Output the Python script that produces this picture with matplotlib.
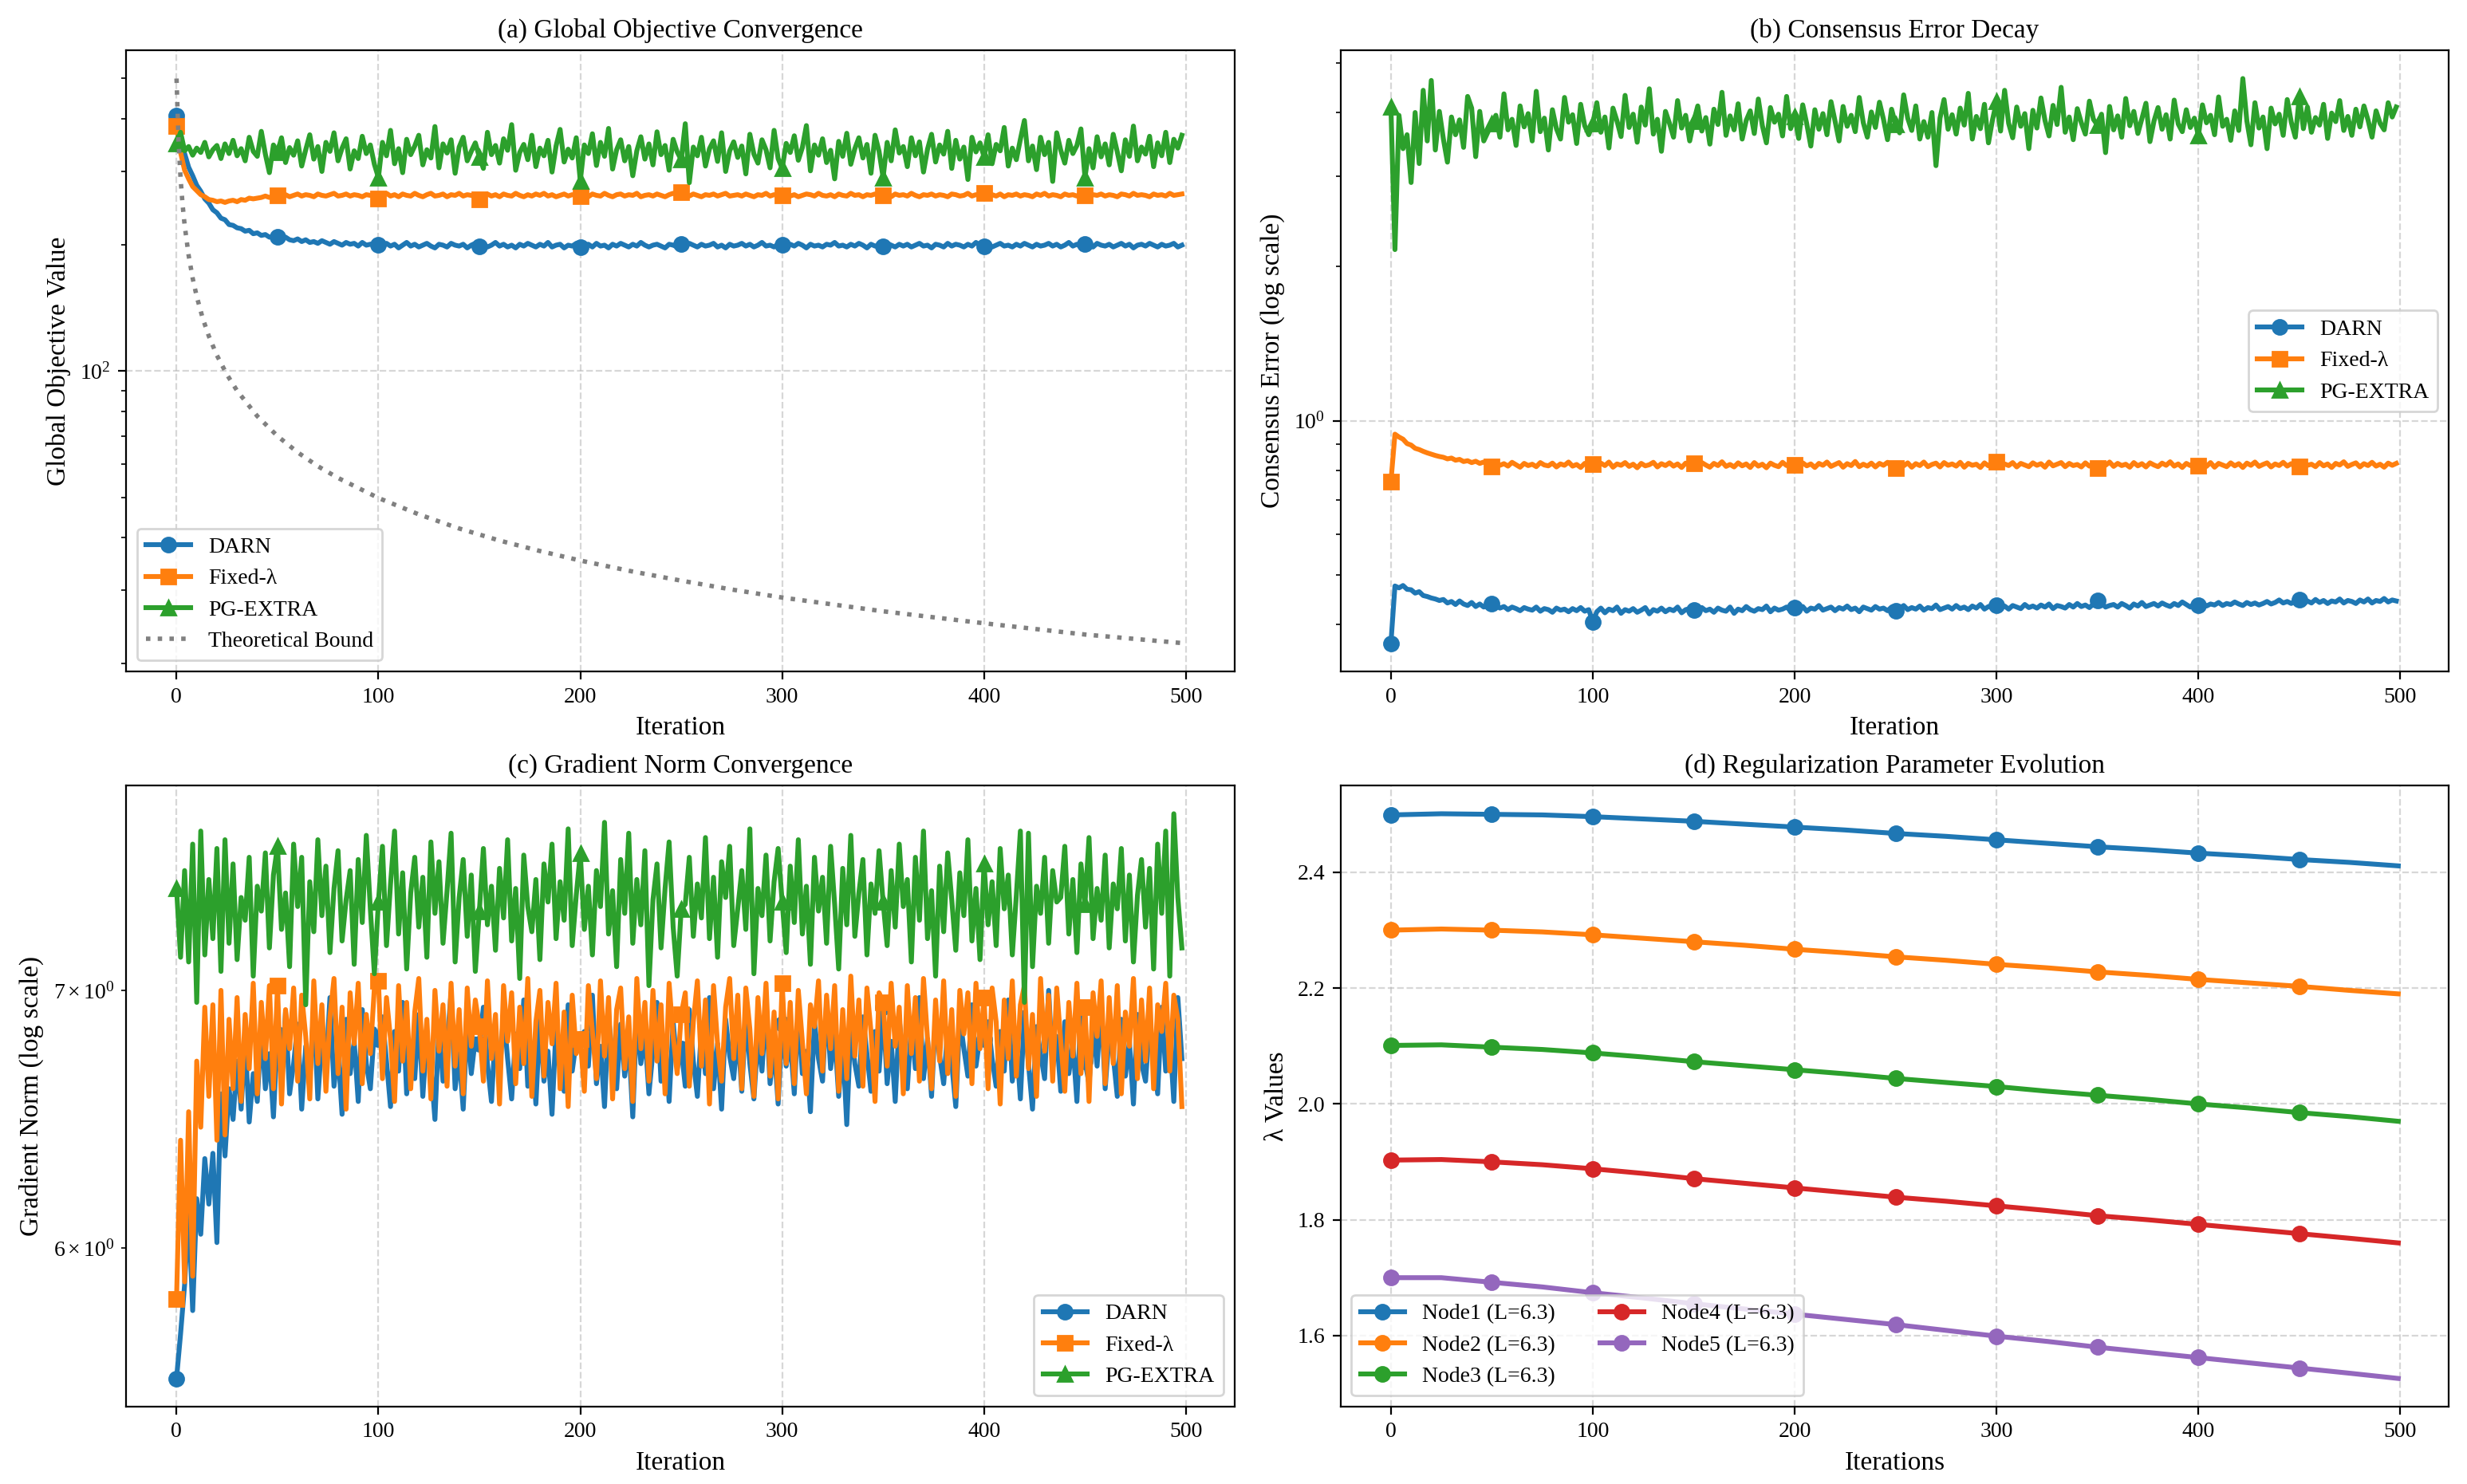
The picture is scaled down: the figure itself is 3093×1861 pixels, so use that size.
import matplotlib.pyplot as plt
import numpy as np

plt.rcParams['font.family'] = 'serif'
plt.rcParams['font.serif'] = ['Liberation Serif', 'DejaVu Serif']
plt.rcParams['mathtext.fontset'] = 'stix'

## data (sampled every 2 iterations) ##########
# (a) global objective
a_darn = [407, 362, 331, 307, 293, 278, 269, 258, 252, 243, 239, 232, 230, 224, 223, 220, 219, 216, 217, 213,
          214, 211, 212, 209, 210, 209,
          207, 209, 206, 205, 207, 204, 206, 203, 204, 202, 205, 203, 201, 204, 202, 200, 203, 201, 202, 199,
          203, 200, 201, 202,
          200, 198, 202, 199, 201, 197, 200, 203, 199, 201,
          198, 200, 202, 199, 197, 201, 200, 198, 202, 200,
          199, 201, 197, 200, 202, 199, 201, 198, 200, 203,
          199, 201, 198, 200, 197, 201, 199, 202, 200, 198,
          201, 199, 203, 198, 200, 201, 197, 200, 199, 202,
          198, 200, 201, 198, 202, 199, 200, 197, 201, 199,
          202, 200, 198, 201, 199, 203, 200, 198, 200, 201,
          199, 197, 201, 200, 198, 201, 199, 202, 200, 198,
          201, 199, 200, 202, 198, 200, 197, 201, 199, 200,
          202, 199, 201, 198, 200, 203, 199, 200, 198, 201,
          200, 198, 201, 199, 202, 200, 197, 201, 199, 200,
          198, 201, 200, 203, 199, 200, 198, 201, 199, 202,
          200, 197, 201, 199, 200, 199, 202, 200, 198, 201,
          199, 201, 198, 200, 202, 199, 200, 197, 201, 200,
          198, 202, 199, 201, 200, 198, 201, 199, 203, 200,
          199, 201, 198, 200, 202, 199, 200, 198, 201, 199,
          202, 200, 198, 201, 199, 200, 202, 199, 201, 198,
          200, 203, 199, 201, 198, 201, 200, 198, 202, 200,
          199, 201, 198, 200, 202, 199, 201, 197, 200, 201,
          199, 202, 200, 198, 201, 199, 200, 202, 198, 200]
a_fixed = [385, 333, 302, 288, 276, 270, 264, 261, 257, 256, 254, 255, 253, 255, 256, 254, 257, 256, 259, 258,
           259, 260, 262, 260, 262, 263,
           262, 264, 261, 263, 265, 262, 264, 263, 261, 265, 263, 262, 264, 266, 262, 263, 265, 262, 264, 263,
           261, 264, 263, 265,
           258, 263, 266, 262, 264, 261, 265, 263, 262, 266,
           263, 261, 264, 266, 262, 263, 265, 261, 264, 263,
           266, 262, 264, 263, 261, 257, 263, 265, 262, 264,
           261, 265, 263, 262, 266, 263, 261, 264, 262, 265,
           263, 266, 262, 264, 261, 263, 265, 262, 264, 263,
           262, 264, 261, 265, 263, 262, 266, 263, 261, 264,
           265, 262, 264, 263, 266, 261, 263, 264, 262, 265,
           263, 261, 264, 266, 263, 268, 264, 262, 265, 263,
           261, 264, 263, 265, 262, 264, 266, 262, 263, 264,
           262, 265, 263, 261, 264, 263, 266, 262, 264, 263,
           263, 265, 262, 264, 261, 263, 265, 264, 262, 266,
           263, 262, 264, 261, 265, 263, 262, 266, 263, 264,
           261, 264, 263, 265, 262, 263, 264, 261, 265, 263,
           264, 262, 266, 263, 261, 264, 263, 265, 262, 264,
           263, 261, 265, 264, 262, 263, 266, 262, 264, 263,
           266, 263, 264, 262, 265, 261, 264, 263, 265, 262,
           264, 263, 261, 265, 263, 266, 262, 264, 263, 261,
           265, 263, 264, 262, 266, 263, 261, 264, 263, 265,
           262, 264, 263, 261, 265, 264, 262, 266, 263, 264,
           263, 261, 265, 263, 264, 262, 266, 263, 264, 265]
a_extra = [350, 372, 336, 344, 328, 341, 333, 352, 325, 338,
           346, 322, 349, 331, 356, 327, 340, 318, 362, 335,
           326, 374, 330, 298, 347, 333, 361, 315, 342, 328,
           355, 309, 338, 367, 321, 344, 300, 352, 335, 371,
           318, 341, 359, 304, 336, 322, 364, 331, 347, 312,
           290, 352, 327, 376, 313, 340, 298, 358, 329, 345,
           366, 311, 338, 323, 384, 306, 349, 332, 357, 297,
           343, 362, 318, 335, 351, 325, 305, 372, 329, 346,
           314, 359, 337, 388, 302, 333, 348, 320, 366, 308,
           341, 327, 356, 299, 345, 378, 316, 339, 323, 361,
           285, 347, 331, 369, 310, 352, 326, 380, 304, 338,
           357, 318, 344, 293, 336, 363, 321, 349, 311, 373,
           329, 346, 302, 358, 334, 320, 390, 282, 343, 327,
           362, 309, 340, 355, 317, 371, 300, 336, 353, 324,
           345, 296, 368, 330, 314, 357, 338, 306, 376, 322,
           305, 350, 333, 365, 319, 342, 386, 301, 347, 328,
           359, 315, 337, 288, 354, 326, 370, 312, 340, 361,
           323, 348, 297, 366, 335, 290, 352, 318, 377, 332,
           344, 308, 361, 327, 353, 299, 339, 368, 316, 347,
           330, 374, 305, 356, 321, 343, 287, 362, 334, 351,
           325, 367, 313, 348, 336, 382, 309, 341, 320, 358,
           397, 318, 345, 303, 362, 329, 352, 284, 371, 337,
           314, 356, 331, 346, 379, 290, 340, 306, 363, 325,
           349, 311, 368, 334, 301, 357, 326, 385, 318, 343,
           330, 364, 308, 351, 327, 372, 315, 358, 341, 366]
bound_iters = [0, 1, 2, 3, 4, 6, 8, 10, 13, 16, 20, 25, 30, 40, 50, 60, 70, 80, 100, 120,
               140, 160, 180, 200, 225, 250, 275, 300, 350, 400, 450, 499]
bound_vals = [500, 353.6, 288.7, 250, 223.6, 189.0, 166.7, 150.8, 133.6, 121.3, 109.1, 98.1, 89.8, 78.1,
              70.0, 64.0, 59.3, 55.6, 49.8, 45.5, 42.1, 39.4, 37.2, 35.3, 33.3, 31.6, 30.1, 28.8, 26.7,
              25.0, 23.5, 22.4]

# (b) consensus error
b_darn = [0.368, 0.476, 0.472, 0.477, 0.469, 0.468, 0.461, 0.464, 0.456, 0.454, 0.451, 0.449, 0.446, 0.448,
          0.441, 0.444, 0.438, 0.445, 0.439, 0.436, 0.442, 0.434, 0.439, 0.433, 0.437, 0.440,
          0.436, 0.431, 0.434, 0.428, 0.433, 0.430, 0.426, 0.432, 0.429, 0.427, 0.433, 0.425, 0.430, 0.428,
          0.423, 0.431, 0.427, 0.429, 0.424, 0.430, 0.426, 0.432, 0.425, 0.428,
          0.405, 0.424, 0.431, 0.422, 0.429, 0.426, 0.433, 0.421, 0.428, 0.425,
          0.430, 0.423, 0.427, 0.432, 0.420, 0.428, 0.425, 0.431, 0.424, 0.429,
          0.426, 0.433, 0.422, 0.428, 0.430, 0.427, 0.424, 0.432, 0.426, 0.429,
          0.423, 0.431, 0.427, 0.425, 0.433, 0.421, 0.429, 0.426, 0.434, 0.428,
          0.425, 0.430, 0.428, 0.435, 0.424, 0.431, 0.427, 0.429, 0.433, 0.426,
          0.432, 0.428, 0.434, 0.425, 0.431, 0.429, 0.436, 0.427, 0.430, 0.433,
          0.426, 0.432, 0.429, 0.435, 0.428, 0.431, 0.424, 0.433, 0.430, 0.427,
          0.434, 0.429, 0.431, 0.426, 0.433, 0.425, 0.430, 0.436, 0.428, 0.432,
          0.429, 0.435, 0.427, 0.432, 0.430, 0.437, 0.428, 0.431, 0.434, 0.429,
          0.436, 0.430, 0.433, 0.428, 0.435, 0.431, 0.438, 0.429, 0.434, 0.432,
          0.437, 0.431, 0.435, 0.429, 0.436, 0.433, 0.430, 0.438, 0.432, 0.435,
          0.431, 0.437, 0.433, 0.439, 0.430, 0.436, 0.434, 0.431, 0.438, 0.433,
          0.440, 0.434, 0.437, 0.432, 0.439, 0.446, 0.441, 0.433, 0.436, 0.438,
          0.433, 0.440, 0.436, 0.431, 0.439, 0.435, 0.442, 0.434, 0.437, 0.440,
          0.435, 0.441, 0.437, 0.434, 0.440, 0.436, 0.443, 0.438, 0.433, 0.439,
          0.436, 0.441, 0.435, 0.439, 0.437, 0.442, 0.436, 0.440, 0.438, 0.443,
          0.439, 0.436, 0.442, 0.438, 0.441, 0.437, 0.440, 0.444, 0.439, 0.442,
          0.447, 0.441, 0.444, 0.440, 0.446, 0.447, 0.439, 0.445, 0.441, 0.448,
          0.442, 0.446, 0.440, 0.445, 0.443, 0.449, 0.441, 0.446, 0.444, 0.440,
          0.447, 0.443, 0.449, 0.441, 0.446, 0.444, 0.450, 0.443, 0.447, 0.445]
b_fixed = [0.760, 0.942, 0.930, 0.921, 0.903, 0.897, 0.884, 0.879, 0.872, 0.866, 0.861, 0.856, 0.852, 0.849,
           0.843, 0.846, 0.838, 0.841, 0.833, 0.836, 0.829, 0.834, 0.826, 0.831, 0.824, 0.815,
           0.828, 0.819, 0.825, 0.816, 0.830, 0.821, 0.812, 0.826, 0.818, 0.823, 0.814, 0.829, 0.820, 0.817,
           0.827, 0.813, 0.824, 0.819, 0.831, 0.816, 0.822, 0.811, 0.826, 0.818,
           0.822, 0.814, 0.827, 0.818, 0.831, 0.812, 0.824, 0.819, 0.829, 0.815,
           0.823, 0.810, 0.826, 0.817, 0.821, 0.830, 0.813, 0.825, 0.818, 0.828,
           0.816, 0.824, 0.811, 0.827, 0.819, 0.825, 0.814, 0.829, 0.820, 0.812,
           0.826, 0.818, 0.832, 0.815, 0.822, 0.813, 0.828, 0.817, 0.824, 0.811,
           0.829, 0.816, 0.823, 0.810, 0.827, 0.819, 0.814, 0.830, 0.818, 0.825,
           0.820, 0.813, 0.828, 0.817, 0.824, 0.811, 0.826, 0.819, 0.831, 0.815,
           0.822, 0.829, 0.812, 0.825, 0.818, 0.833, 0.814, 0.823, 0.816, 0.827,
           0.813, 0.826, 0.819, 0.830, 0.815, 0.810, 0.824, 0.817, 0.828, 0.812,
           0.825, 0.818, 0.831, 0.814, 0.822, 0.827, 0.813, 0.829, 0.819, 0.824,
           0.816, 0.830, 0.812, 0.826, 0.819, 0.823, 0.811, 0.828, 0.817, 0.825,
           0.832, 0.815, 0.824, 0.818, 0.829, 0.813, 0.826, 0.820, 0.814, 0.828,
           0.819, 0.825, 0.812, 0.831, 0.817, 0.823, 0.829, 0.814, 0.826, 0.818,
           0.822, 0.813, 0.828, 0.816, 0.824, 0.810, 0.827, 0.819, 0.831, 0.815,
           0.826, 0.818, 0.823, 0.812, 0.829, 0.817, 0.825, 0.813, 0.828, 0.820,
           0.814, 0.827, 0.819, 0.832, 0.816, 0.824, 0.811, 0.826, 0.818, 0.829,
           0.818, 0.823, 0.815, 0.829, 0.812, 0.826, 0.820, 0.814, 0.828, 0.817,
           0.825, 0.811, 0.827, 0.819, 0.831, 0.815, 0.822, 0.828, 0.813, 0.824,
           0.818, 0.830, 0.816, 0.825, 0.812, 0.815, 0.827, 0.819, 0.823, 0.814,
           0.829, 0.817, 0.824, 0.811, 0.826, 0.820, 0.832, 0.815, 0.822, 0.828,
           0.813, 0.825, 0.818, 0.830, 0.816, 0.823, 0.812, 0.827, 0.819, 0.826]
b_extra = [4.10, 2.16, 3.95, 3.40, 3.62, 2.92, 4.00, 3.18, 4.42, 3.52,
           4.62, 3.38, 4.02, 3.55, 3.20, 3.92, 3.62, 3.87, 3.42, 4.30,
           4.08, 3.28, 4.02, 3.52, 3.66, 3.80, 3.95, 3.58, 4.35, 3.70,
           3.88, 3.45, 4.12, 3.75, 3.98, 3.52, 4.40, 3.67, 3.90, 3.38,
           4.05, 3.72, 3.55, 4.28, 3.83, 3.96, 3.48, 4.15, 3.77, 3.62,
           3.80, 4.18, 3.66, 3.92, 3.41, 4.08, 3.85, 3.59, 4.32, 3.74,
           3.97, 3.50, 4.10, 3.78, 4.45, 3.63, 3.88, 3.36, 4.02, 3.81,
           3.58, 4.22, 3.73, 3.95, 3.52, 3.84, 4.12, 3.68, 3.91, 3.47,
           4.06, 3.79, 4.38, 3.61, 3.94, 3.70, 4.16, 3.55, 3.86, 4.03,
           3.64, 4.25, 3.77, 3.49, 4.09, 3.83, 3.97, 3.60, 4.30, 3.72,
           3.93, 3.56, 4.14, 3.80, 3.44, 4.05, 3.71, 3.98, 3.62, 4.20,
           3.85, 3.52, 4.11, 3.76, 3.95, 3.67, 4.28, 3.82, 3.58, 4.01,
           3.74, 4.19, 3.88, 3.54, 4.06, 3.79, 3.65, 4.33, 3.90, 3.69,
           4.12, 3.55, 3.84, 3.58, 4.00, 3.15, 3.90, 4.24, 3.71, 3.96,
           3.63, 4.08, 3.78, 4.36, 3.55, 3.93, 3.72, 4.15, 3.49, 3.87,
           4.20, 3.68, 4.42, 3.81, 3.57, 4.10, 3.76, 3.98, 3.40, 4.04,
           3.73, 4.27, 3.86, 3.60, 4.13, 3.79, 4.48, 3.66, 3.92, 3.54,
           4.07, 3.82, 3.63, 4.21, 3.88, 3.78, 3.97, 3.34, 4.11, 3.70,
           3.94, 3.58, 4.26, 3.77, 4.02, 3.64, 3.89, 4.17, 3.51, 3.85,
           4.09, 3.71, 3.96, 3.55, 4.23, 3.80, 3.67, 4.05, 3.74, 3.90,
           3.60, 4.14, 3.82, 3.95, 3.62, 4.29, 3.76, 3.88, 3.53, 4.03,
           3.69, 4.66, 3.85, 3.46, 4.18, 3.73, 3.92, 3.40, 4.08, 3.80,
           3.97, 3.61, 4.24, 3.83, 3.58, 4.30, 3.72, 4.10, 3.66, 3.91,
           3.78, 4.15, 3.56, 3.99, 3.84, 4.22, 3.69, 3.93, 3.61, 4.06,
           3.75, 4.12, 3.87, 3.58, 4.03, 3.81, 3.70, 4.18, 3.92, 4.10]

# (c) gradient norm
c_darn = [5.55, 5.70, 5.87, 6.14, 5.78, 6.18, 6.05, 6.33, 6.16, 6.35,
          6.02, 6.58, 6.34, 6.60, 6.48, 6.71, 6.52, 6.80, 6.47, 6.66,
          6.55, 6.85, 6.60, 6.74, 6.49, 6.82, 6.63, 6.91, 6.58, 6.70,
          6.86, 6.52, 6.77, 6.64, 6.93, 6.56, 6.80, 6.68, 6.97, 6.61,
          6.75, 6.50, 6.88, 6.66, 6.79, 6.55, 6.92, 6.70, 6.60, 6.84,
          6.80, 6.89, 6.71, 6.53, 6.83, 6.67, 6.95, 6.58, 6.76, 6.64,
          6.90, 6.57, 6.81, 6.69, 6.48, 6.86, 6.63, 6.78, 6.99, 6.60,
          6.74, 6.52, 6.87, 6.66, 6.80, 6.78, 6.93, 6.70, 6.55, 6.84,
          6.65, 6.91, 6.72, 6.56, 6.82, 6.68, 6.96, 6.61, 6.78, 6.54,
          6.88, 6.63, 6.75, 6.50, 6.85, 6.71, 6.59, 6.94, 6.67, 6.79,
          6.80, 6.83, 6.69, 6.98, 6.62, 6.77, 6.53, 6.89, 6.72, 6.60,
          6.86, 6.65, 6.79, 6.49, 6.91, 6.70, 6.82, 6.58, 6.75, 6.95,
          6.63, 6.80, 6.55, 6.87, 6.68, 6.76, 6.61, 6.92, 6.71, 6.57,
          6.84, 6.66, 6.97, 6.60, 6.78, 6.52, 6.88, 6.73, 6.64, 6.83,
          6.59, 6.90, 6.70, 6.56, 6.81, 6.67, 6.94, 6.62, 6.77, 6.54,
          6.86, 6.69, 6.80, 6.58, 6.92, 6.66, 6.75, 6.51, 6.87, 6.72,
          6.63, 6.95, 6.68, 6.82, 6.57, 6.78, 6.46, 6.85, 6.70, 6.61,
          6.89, 6.74, 6.59, 6.83, 6.67, 6.93, 6.62, 6.79, 6.55, 6.88,
          6.71, 6.60, 6.86, 6.68, 6.97, 6.64, 6.80, 6.57, 6.90, 6.73,
          6.62, 6.84, 6.70, 6.53, 6.89, 6.76, 6.65, 6.94, 6.69, 6.81,
          6.80, 6.87, 6.72, 6.61, 6.83, 6.67, 6.96, 6.63, 6.79, 6.56,
          6.91, 6.70, 6.52, 6.85, 6.74, 6.64, 7.00, 6.68, 6.81, 6.59,
          6.87, 6.66, 6.78, 6.55, 6.92, 6.71, 6.62, 6.84, 6.69, 6.95,
          6.60, 6.82, 6.73, 6.57, 6.88, 6.65, 6.79, 6.54, 6.90, 6.70,
          6.63, 6.86, 6.74, 6.58, 6.93, 6.67, 6.81, 6.55, 6.97, 6.72]
c_fixed = [5.82, 6.40, 5.88, 6.51, 5.90, 6.71, 6.45, 6.93, 6.57, 6.94,
           6.40, 7.00, 6.42, 6.88, 6.60, 6.97, 6.55, 6.90, 6.68, 7.03,
           6.58, 6.95, 6.72, 7.02, 6.60, 7.02, 6.54, 6.92, 6.76, 7.01,
           6.63, 6.98, 6.81, 6.56, 7.04, 6.70, 6.94, 6.59, 6.89, 7.05,
           6.66, 6.93, 6.52, 6.99, 6.78, 7.03, 6.62, 6.90, 6.74, 7.01,
           7.04, 6.64, 6.97, 6.80, 6.55, 7.02, 6.71, 6.95, 6.60, 6.91,
           7.05, 6.67, 6.88, 6.56, 7.00, 6.75, 6.94, 6.61, 7.03, 6.69,
           6.92, 6.58, 7.01, 6.77, 6.96, 6.85, 6.63, 7.04, 6.72, 6.90,
           6.54, 7.02, 6.79, 6.99, 6.62, 6.93, 6.70, 7.05, 6.57, 6.87,
           7.00, 6.65, 6.95, 6.78, 7.03, 6.60, 6.91, 6.53, 6.98, 6.74,
           6.80, 6.59, 7.02, 6.83, 6.64, 7.04, 6.73, 6.97, 6.56, 6.92,
           7.01, 6.68, 6.89, 6.55, 7.05, 6.76, 6.95, 6.63, 7.00, 6.71,
           6.94, 6.58, 7.03, 6.81, 6.66, 6.90, 6.99, 6.61, 6.87, 7.04,
           6.69, 6.96, 6.54, 7.02, 6.78, 6.63, 6.93, 7.05, 6.72, 6.98,
           6.60, 7.01, 6.84, 6.57, 6.97, 6.74, 7.03, 6.65, 6.91, 6.56,
           7.03, 6.70, 6.95, 6.62, 7.00, 6.79, 6.58, 6.94, 6.85, 7.04,
           6.67, 6.98, 6.76, 7.02, 6.59, 6.92, 6.64, 7.06, 6.73, 6.96,
           6.61, 7.01, 6.83, 6.55, 6.99, 6.95, 6.69, 7.03, 6.77, 6.93,
           6.58, 7.02, 6.74, 6.97, 6.63, 7.05, 6.80, 6.60, 6.96, 6.71,
           7.04, 6.66, 6.92, 6.57, 7.00, 6.82, 6.99, 6.62, 7.03, 6.76,
           6.97, 6.60, 7.01, 6.87, 6.54, 6.96, 6.72, 7.04, 6.65, 6.94,
           7.02, 6.68, 6.90, 6.57, 7.05, 6.75, 6.98, 6.63, 7.01, 6.79,
           6.59, 6.95, 6.73, 7.03, 6.66, 6.93, 6.55, 6.99, 6.81, 7.04,
           6.62, 6.97, 6.70, 7.02, 6.58, 6.91, 6.77, 7.05, 6.64, 6.96,
           6.71, 7.01, 6.60, 6.94, 6.83, 7.03, 6.67, 6.98, 6.88, 6.53]
c_extra = [7.44, 7.14, 7.52, 7.12, 7.64, 6.95, 7.70, 7.15, 7.48, 7.22,
           7.62, 7.08, 7.66, 7.20, 7.55, 7.13, 7.40, 7.30, 7.58, 7.06,
           7.45, 7.34, 7.60, 7.18, 7.50, 7.63, 7.26, 7.42, 7.10, 7.64,
           7.36, 7.58, 6.94, 7.47, 7.25, 7.66, 7.32, 7.54, 7.16, 7.44,
           7.61, 7.21, 7.39, 7.52, 7.11, 7.57, 7.29, 7.68, 7.35, 7.07,
           7.38, 7.63, 7.19, 7.46, 7.70, 7.24, 7.51, 7.09, 7.42, 7.58,
           7.27, 7.49, 7.14, 7.65, 7.33, 7.56, 7.20, 7.43, 7.69, 7.12,
           7.40, 7.57, 7.23, 7.50, 7.08, 7.34, 7.62, 7.28, 7.45, 7.17,
           7.53, 7.31, 7.66, 7.21, 7.44, 7.05, 7.59, 7.36, 7.25, 7.48,
           7.13, 7.55, 7.38, 7.64, 7.22, 7.47, 7.30, 7.71, 7.19, 7.41,
           7.60, 7.26, 7.45, 7.15, 7.52, 7.36, 7.74, 7.24, 7.43, 7.10,
           7.57, 7.33, 7.69, 7.20, 7.48, 7.28, 7.61, 7.02, 7.39, 7.55,
           7.18, 7.44, 7.65, 7.27, 7.06, 7.35, 7.37, 7.58, 7.23, 7.46,
           7.31, 7.67, 7.22, 7.49, 7.14, 7.56, 7.40, 7.63, 7.19, 7.35,
           7.52, 7.26, 7.71, 7.07, 7.44, 7.32, 7.59, 7.21, 7.47, 7.62,
           7.38, 7.16, 7.54, 7.29, 7.66, 7.24, 7.45, 7.11, 7.58, 7.34,
           7.49, 7.20, 7.63, 7.37, 7.09, 7.53, 7.28, 7.68, 7.23, 7.42,
           7.57, 7.15, 7.46, 7.33, 7.61, 7.38, 7.19, 7.52, 7.27, 7.64,
           7.36, 7.48, 7.12, 7.58, 7.30, 7.70, 7.22, 7.43, 7.06, 7.54,
           7.25, 7.60, 7.39, 7.17, 7.51, 7.32, 7.66, 7.21, 7.44, 7.13,
           7.55, 7.28, 7.47, 7.19, 7.62, 7.35, 7.50, 7.15, 7.41, 7.70,
           6.95, 7.69, 7.10, 7.45, 7.33, 7.58, 7.20, 7.52, 7.38, 7.40,
           7.63, 7.24, 7.48, 7.16, 7.55, 7.37, 7.67, 7.22, 7.44, 7.30,
           7.59, 7.18, 7.46, 7.35, 7.62, 7.21, 7.50, 7.12, 7.41, 7.57,
           7.27, 7.53, 7.09, 7.64, 7.33, 7.70, 7.06, 7.78, 7.40, 7.18]

# (d) regularization parameters
lam_iters = [0, 25, 50, 75, 100, 125, 150, 175, 200, 225, 250, 275, 300, 325, 350, 375, 400, 425, 450, 475, 499]
node_names = ['Node1 (L=6.3)', 'Node2 (L=6.3)', 'Node3 (L=6.3)', 'Node4 (L=6.3)', 'Node5 (L=6.3)']
node1 = [2.499, 2.501, 2.500, 2.499, 2.496, 2.492, 2.488, 2.483, 2.478, 2.473, 2.467,
         2.462, 2.456, 2.450, 2.444, 2.439, 2.433, 2.428, 2.422, 2.417, 2.411]
node2 = [2.300, 2.302, 2.300, 2.297, 2.292, 2.286, 2.280, 2.274, 2.267, 2.261, 2.254,
         2.248, 2.241, 2.235, 2.228, 2.222, 2.215, 2.209, 2.203, 2.196, 2.190]
node3 = [2.101, 2.102, 2.098, 2.094, 2.088, 2.081, 2.073, 2.066, 2.059, 2.052, 2.044,
         2.037, 2.030, 2.022, 2.015, 2.008, 2.000, 1.993, 1.985, 1.978, 1.970]
node4 = [1.903, 1.904, 1.900, 1.895, 1.888, 1.880, 1.871, 1.863, 1.855, 1.847, 1.839,
         1.832, 1.824, 1.816, 1.807, 1.800, 1.792, 1.784, 1.776, 1.768, 1.760]
node5 = [1.700, 1.700, 1.692, 1.684, 1.674, 1.665, 1.655, 1.646, 1.637, 1.628, 1.619,
         1.609, 1.599, 1.590, 1.580, 1.571, 1.562, 1.553, 1.544, 1.535, 1.526]

method_names = ['DARN', 'Fixed-λ', 'PG-EXTRA']
method_markers = ['o', 's', '^']


def iters_of(vals):
    return np.arange(len(vals)) * 2


fig, axes = plt.subplots(2, 2, figsize=(15.465, 9.305), dpi=200)
fig.subplots_adjust(left=0.0511, right=0.9926, top=0.9661, bottom=0.0521,
                    wspace=0.0957, hspace=0.1836)

panels = [
    (axes[0, 0], [a_darn, a_fixed, a_extra], '(a) Global Objective Convergence',
     'Global Objective Value', 'lower left'),
    (axes[0, 1], [b_darn, b_fixed, b_extra], '(b) Consensus Error Decay',
     'Consensus Error (log scale)', 'center right'),
    (axes[1, 0], [c_darn, c_fixed, c_extra], '(c) Gradient Norm Convergence',
     'Gradient Norm (log scale)', 'lower right'),
]

for ax, series, title, ylabel, loc in panels:
    for i, vals in enumerate(series):
        ax.plot(iters_of(vals), vals, color='C%d' % i, marker=method_markers[i],
                lw=2.2, ms=6.5, markevery=25, label=method_names[i])
    if ax is axes[0, 0]:
        ax.plot(bound_iters, bound_vals, ':', color='gray', lw=2, label='Theoretical Bound')
    ax.set_yscale('log')
    ax.set_xlim(-25, 524)
    ax.set_title(title, fontsize=12)
    ax.set_xlabel('Iteration', fontsize=12)
    ax.set_ylabel(ylabel, fontsize=12)
    ax.grid(True, ls='--', alpha=0.5)
    ax.tick_params(which='both', labelsize=10)
    ax.legend(loc=loc, fontsize=10)

## lambda evolution ##########
ax = axes[1, 1]
for i, vals in enumerate([node1, node2, node3, node4, node5]):
    ax.plot(lam_iters, vals, color='C%d' % i, marker='o', lw=2.2, ms=6.5,
            markevery=slice(0, 20, 2), label=node_names[i])
ax.set_xlim(-25, 524)
ax.set_title('(d) Regularization Parameter Evolution', fontsize=12)
ax.set_xlabel('Iterations', fontsize=12)
ax.set_ylabel('λ Values', fontsize=12)
ax.grid(True, ls='--', alpha=0.5)
ax.tick_params(labelsize=10)
ax.legend(loc='lower left', ncol=2, fontsize=10)

fig.savefig('out.png', dpi=200)
